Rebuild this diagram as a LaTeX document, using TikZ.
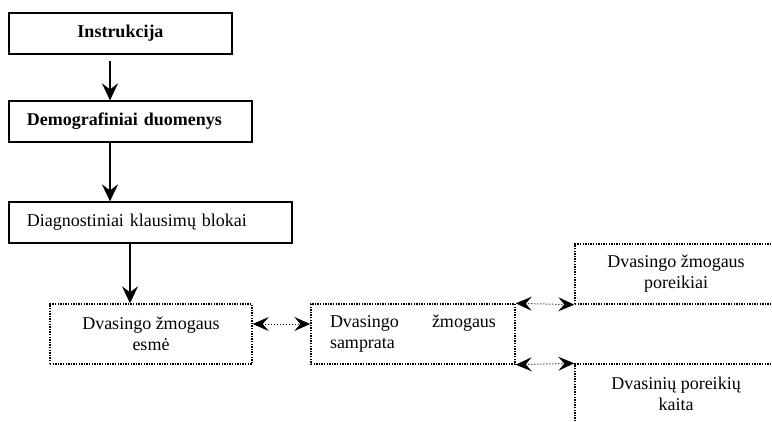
\documentclass[tikz,border=0pt]{standalone}
\usepackage{fontspec}
\setmainfont{Liberation Serif}
\usetikzlibrary{arrows.meta}

\tikzset{
  txt/.style={font=\fontsize{18}{21}\selectfont},
  boldtxt/.style={font=\fontsize{18}{21}\selectfont\bfseries},
  solidbox/.style={draw, line width=1.2pt, minimum height=41pt, inner sep=0pt},
  dotbox/.style={draw, line width=1.4pt, dash pattern=on 1.4pt off 1.2pt,
    minimum width=202pt, minimum height=60pt, align=center, inner sep=0pt},
  arr/.style={line width=1.8pt, -{Stealth[length=17pt, width=16pt, inset=6pt]}},
  dotarr/.style={line width=1pt, dotted,
    {Stealth[length=16pt, width=14pt, inset=6pt]}-{Stealth[length=16pt, width=14pt, inset=6pt]}}
}

\begin{document}
\begin{tikzpicture}[x=1pt, y=-1pt, txt]
\useasboundingbox (0,0) rectangle (772,421);
\clip (0,0) rectangle (772,421);
\node[solidbox, minimum width=223pt, boldtxt] (instr) at (120.5,33.5) {Instrukcija};
\node[solidbox, text width=207pt, inner xsep=18pt, align=left, boldtxt] (demo) at (130.5,121.5) {Demografiniai duomenys};
\node[solidbox, text width=247pt, inner xsep=18pt, align=left] (diag) at (150.5,222.5) {Diagnostiniai klausimų blokai};
\node[dotbox] (esme) at (151,334) {Dvasingo žmogaus\\esmė};
\node[dotbox, minimum width=204pt, text width=166pt, align=left] (sampr) at (413,334) {Dvasingo\hfill žmogaus\\samprata};
\node[dotbox] (poreik) at (676,274) {Dvasingo žmogaus\\poreikiai};
\node[dotbox] (kaita) at (676,394) {Dvasinių poreikių\\kaita};
\draw[arr] ([shift={(-10.5,6)}]instr.south) -- ([xshift=-20.5pt]demo.north);
\draw[arr] ([xshift=-20.5pt]demo.south) -- ([xshift=-40.5pt]diag.north);
\draw[arr] ([xshift=-20.5pt]diag.south) -- ([xshift=-21pt]esme.north);
\draw[dotarr] ([yshift=10pt]esme.east) -- ([yshift=10pt]sampr.west);
\draw[dotarr] (sampr.north east) -- (poreik.south west);
\draw[dotarr] (sampr.south east) -- (kaita.north west);
\end{tikzpicture}
\end{document}
